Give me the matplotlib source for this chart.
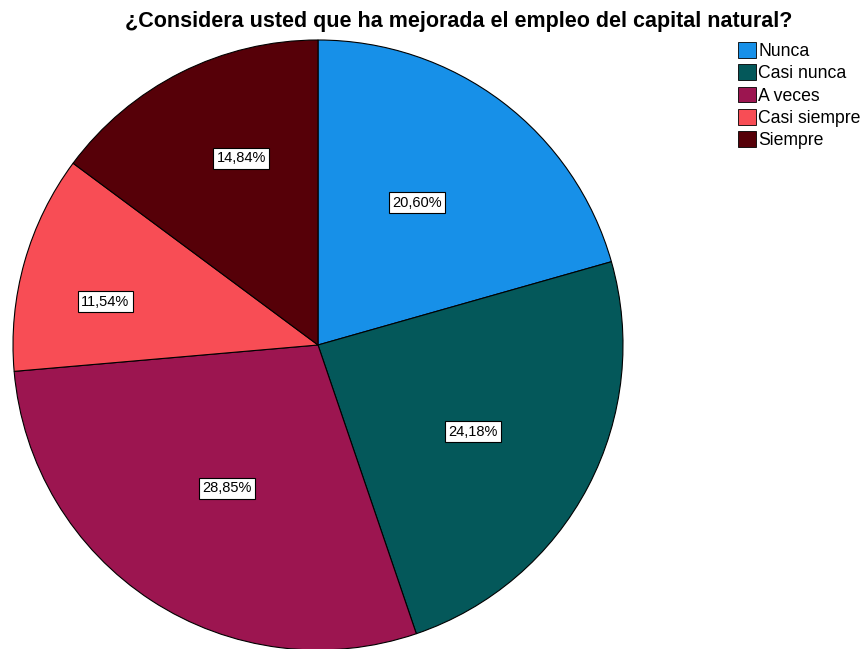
import matplotlib
matplotlib.use('Agg')
import matplotlib.pyplot as plt
from matplotlib.patches import Patch

# respuestas a la pregunta sobre el capital natural
categorias = ['Nunca', 'Casi nunca', 'A veces', 'Casi siempre', 'Siempre']
porcentajes = [20.60, 24.18, 28.85, 11.54, 14.84]
colores = ['#1790e8', '#04585a', '#9c1550', '#f84d55', '#560008']

# posicion de cada etiqueta dentro del grafico (en radios)
pos_etiquetas = [(0.325, 0.466), (0.508, -0.285), (-0.298, -0.469),
                 (-0.697, 0.141), (-0.252, 0.613)]

plt.rcParams['font.family'] = ['Liberation Sans', 'DejaVu Sans']

fig = plt.figure(figsize=(8.67, 6.49), dpi=100, facecolor='w')
ax = fig.add_axes([13 / 867, -1 / 649, 610 / 867, 610 / 649])

wedges, _ = ax.pie(
    porcentajes, colors=colores, startangle=90, counterclock=False, radius=1.0,
    wedgeprops=dict(edgecolor='black', linewidth=0.8))
for p, (x, y) in zip(porcentajes, pos_etiquetas):
    ax.text(x, y, ('%.2f%%' % p).replace('.', ','), ha='center', va='center',
            fontsize=10.5, color='black',
            bbox=dict(facecolor='white', edgecolor='black', linewidth=0.8, pad=2.5))
ax.set_xlim(-1.0, 1.0)
ax.set_ylim(-1.0, 1.0)
ax.set_aspect('equal')

fig.text(459 / 867, 1 - 22 / 649, '¿Considera usted que ha mejorada el empleo del capital natural?',
         ha='center', va='center', fontsize=15.5, fontweight='bold')

manejadores = [Patch(facecolor=c, edgecolor='black', linewidth=0.6) for c in colores]
fig.legend(manejadores, categorias, loc='upper left', bbox_to_anchor=(738 / 867, 1 - 42 / 649),
           frameon=False, fontsize=12.7, handlelength=1.0, handleheight=1.0,
           handletextpad=0.15, labelspacing=0.25, borderpad=0.0, borderaxespad=0.0)

plt.savefig('out.png', dpi=100)
